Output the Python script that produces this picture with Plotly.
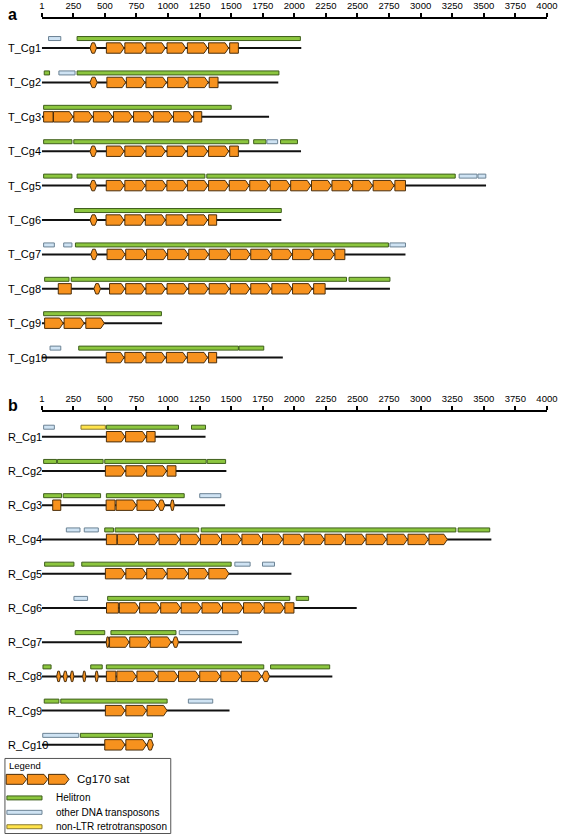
import plotly.graph_objects as go

# ---------------- data (bp coordinates) ----------------
T_names = ["T_Cg1", "T_Cg2", "T_Cg3", "T_Cg4", "T_Cg5", "T_Cg6", "T_Cg7", "T_Cg8", "T_Cg9", "T_Cg10"]
T_length = [2055, 1873, 1800, 2053, 3518, 1897, 2880, 2757, 953, 1909]
T_helitron = [
    [(280, 2048)],
    [(20, 62), (280, 1878)],
    [(15, 1500)],
    [(15, 239), (254, 1639), (1678, 1776), (1891, 2025)],
    [(15, 239), (280, 1292), (1307, 3274)],
    [(259, 1897)],
    [(267, 2745)],
    [(23, 216), (234, 2413), (2433, 2757)],
    [(15, 948)],
    [(293, 1557), (1562, 1758)],
]
T_dna = [
    [(54, 151)], [(136, 264)], [], [(1783, 1868)], [(3305, 3446), (3454, 3516)],
    [], [(15, 100), (174, 239), (2757, 2880)], [], [], [(66, 151)],
]
T_ltr = [[] for _ in range(10)]
T_sat = [
    [(382, 434), (512, 652), (658, 817), (825, 979), (992, 1141), (1153, 1313), (1321, 1480), (1488, 1557)],
    [(382, 439), (516, 665), (670, 817), (825, 987), (997, 1153), (1159, 1318), (1326, 1396)],
    [(15, 90), (93, 247), (254, 401), (409, 560), (568, 717), (727, 876), (884, 1035), (1043, 1192), (1203, 1267)],
    [(382, 434), (512, 652), (658, 817), (825, 979), (992, 1141), (1153, 1313), (1321, 1480), (1488, 1557)],
    [(382, 434), (511, 652), (658, 820), (825, 985), (991, 1148), (1153, 1315), (1321, 1480), (1485, 1642),
     (1647, 1804), (1809, 1966), (1971, 2130), (2136, 2293), (2298, 2457), (2462, 2619), (2624, 2790), (2796, 2880)],
    [(382, 439), (509, 650), (658, 812), (820, 979), (984, 1141), (1151, 1313), (1321, 1385)],
    [(388, 439), (517, 660), (665, 825), (830, 992), (997, 1159), (1164, 1321), (1326, 1488), (1493, 1650),
     (1655, 1817), (1822, 1981), (1986, 2148), (2153, 2316), (2321, 2400)],
    [(131, 234), (413, 465), (537, 658), (665, 817), (825, 979), (992, 1153), (1164, 1318), (1326, 1485),
     (1493, 1647), (1655, 1814), (1822, 1981), (1986, 2140), (2153, 2244)],
    [(23, 170), (177, 336), (349, 496)],
    [(511, 652), (658, 817), (825, 979), (987, 1146), (1153, 1313), (1321, 1385)],
]

R_names = ["R_Cg1", "R_Cg2", "R_Cg3", "R_Cg4", "R_Cg5", "R_Cg6", "R_Cg7", "R_Cg8", "R_Cg9", "R_Cg10"]
R_length = [1297, 1462, 1452, 3560, 1977, 2494, 1585, 2301, 1487, 883]
R_helitron = [
    [(512, 1083), (1186, 1297)],
    [(15, 118), (124, 486), (499, 1302), (1310, 1456)],
    [(15, 157), (170, 466), (512, 1128)],
    [(499, 568), (581, 1243), (1263, 3279), (3297, 3547)],
    [(23, 255), (317, 1500)],
    [(522, 1964), (2015, 2113)],
    [(265, 499), (548, 1063)],
    [(10, 74), (388, 479), (512, 1758), (1812, 2280)],
    [(20, 136), (151, 993)],
    [(306, 877)],
]
R_dna = [
    [(15, 100)], [], [(1251, 1418)], [(195, 303), (337, 448)], [(1529, 1650), (1748, 1843)],
    [(255, 363)], [(1089, 1554)], [], [(1161, 1354)], [(8, 293)],
]
R_ltr = [[(311, 504)], [], [], [], [], [], [], [], [], []]
R_sat = [
    [(512, 659), (664, 826), (831, 898)],
    [(504, 659), (666, 826), (831, 988), (993, 1063)],
    [(87, 151), (510, 581), (589, 749), (754, 916), (921, 975), (1019, 1050)],
    [(512, 595), (599, 762), (767, 924), (929, 1092), (1097, 1251), (1256, 1418), (1423, 1580), (1585, 1743),
     (1748, 1907), (1912, 2072), (2077, 2237), (2242, 2399), (2404, 2563), (2568, 2729), (2734, 2895),
     (2900, 3061), (3066, 3212)],
    [(504, 659), (666, 826), (831, 988), (993, 1156), (1161, 1318), (1323, 1483)],
    [(513, 607), (615, 770), (775, 937), (942, 1099), (1104, 1264), (1269, 1426), (1431, 1593), (1598, 1756),
     (1761, 1920), (1925, 1997)],
    [(510, 535), (537, 692), (697, 854), (859, 1024), (1037, 1083)],
    [(118, 149), (170, 203), (226, 255), (324, 350), (422, 448), (512, 587), (595, 749), (754, 916),
     (921, 1078), (1083, 1246), (1251, 1413), (1418, 1575), (1580, 1740), (1745, 1804)],
    [(504, 659), (666, 829), (834, 993)],
    [(499, 659), (666, 829), (834, 883)],
]

tick_vals = [1, 250, 500, 750, 1000, 1250, 1500, 1750, 2000, 2250, 2500, 2750, 3000, 3250, 3500, 3750, 4000]
tick_text = [str(v) for v in tick_vals]

legend_items = ["Helitron", "other DNA transposons", "non-LTR retrotransposon"]

# ---------------- style ----------------
W, H = 567, 834
ORANGE = "#F7921E"
ORANGE_LINE = "#4a2e0c"
GREEN = "#8CC63F"
GREEN_LINE = "#3f5f1c"
BLUE = "#CFE3F3"
BLUE_LINE = "#6b8294"
YELLOW = "#FFE34A"
YELLOW_LINE = "#8a7a30"
FONT = "Liberation Sans, Arial, sans-serif"

X_DOM = [39.7 / W, 557.7 / W]

fig = go.Figure()
fig.add_trace(go.Scatter(x=[None], y=[None], xaxis="x", yaxis="y", showlegend=False))
fig.add_trace(go.Scatter(x=[None], y=[None], xaxis="x2", yaxis="y2", showlegend=False))

shapes = []
annotations = []


def sat_path(s, e, h=5.2, pt=28):
    L = e - s
    if L >= 110:
        return f"M{s},{-h} L{e-pt},{-h} L{e},0 L{e-pt},{h} L{s},{h} Z"
    if L >= 60:
        return f"M{s},{-h} L{e},{-h} L{e},{h} L{s},{h} Z"
    p = L * 0.3
    return f"M{s},0 L{s+p},{-h} L{e-p},{-h} L{e},0 L{e-p},{h} L{s+p},{h} Z"


def add_panel(xr, yr, names, lengths, hel, dna, ltr, sat):
    for i, name in enumerate(names):
        shapes.append(dict(type="line", xref=xr, yref=yr, x0=1, x1=lengths[i], y0=i, y1=i,
                           line=dict(color="#111111", width=2)))
        for group, fc, lc in ((hel, GREEN, GREEN_LINE), (dna, BLUE, BLUE_LINE), (ltr, YELLOW, YELLOW_LINE)):
            for s, e in group[i]:
                shapes.append(dict(type="rect", xref=xr, yref=yr, ysizemode="pixel", yanchor=i,
                                   x0=s, x1=e, y0=7.5, y1=11.5, fillcolor=fc,
                                   line=dict(color=lc, width=1)))
        for s, e in sat[i]:
            shapes.append(dict(type="path", xref=xr, yref=yr, ysizemode="pixel", yanchor=i,
                               path=sat_path(s, e), fillcolor=ORANGE,
                               line=dict(color=ORANGE_LINE, width=1)))
        annotations.append(dict(xref="paper", yref=yr, x=3 / W, y=i, text=name, showarrow=False,
                                xanchor="left", yanchor="middle",
                                font=dict(family=FONT, size=11, color="black")))


add_panel("x", "y", T_names, T_length, T_helitron, T_dna, T_ltr, T_sat)
add_panel("x2", "y2", R_names, R_length, R_helitron, R_dna, R_ltr, R_sat)

# panel letters
annotations.append(dict(xref="paper", yref="paper", x=3 / W, y=1 - 10 / H, text="<b>a</b>", showarrow=False,
                        xanchor="left", yanchor="middle", font=dict(family=FONT, size=16, color="black")))
annotations.append(dict(xref="paper", yref="paper", x=3 / W, y=1 - 403 / H, text="<b>b</b>", showarrow=False,
                        xanchor="left", yanchor="middle", font=dict(family=FONT, size=16, color="black")))

# legend box
def px(x):
    return x / W


def py(y):
    return 1 - y / H


shapes.append(dict(type="rect", xref="paper", yref="paper", x0=px(2), x1=px(172), y0=py(758), y1=py(833.5),
                   line=dict(color="#555555", width=1), fillcolor="white", layer="below"))
annotations.append(dict(xref="paper", yref="paper", x=px(4), y=py(765), text="Legend", showarrow=False,
                        xanchor="left", yanchor="middle", font=dict(family=FONT, size=9.5, color="black")))
for k in range(3):
    a0 = 3.3 + k * 21.7
    a1 = a0 + 21.0
    shapes.append(dict(type="path", xref="paper", yref="paper",
                       path=(f"M{px(a0)},{py(774)} L{px(a1-4)},{py(774)} L{px(a1)},{py(779)} "
                             f"L{px(a1-4)},{py(784)} L{px(a0)},{py(784)} Z"),
                       fillcolor=ORANGE, line=dict(color=ORANGE_LINE, width=1)))
annotations.append(dict(xref="paper", yref="paper", x=px(74), y=py(779), text="Cg170 sat", showarrow=False,
                        xanchor="left", yanchor="middle", font=dict(family=FONT, size=11.5, color="black")))
for k, (lab, fc, lc) in enumerate(zip(legend_items, [GREEN, BLUE, YELLOW], [GREEN_LINE, BLUE_LINE, YELLOW_LINE])):
    yc = 797.7 + k * 14.5
    shapes.append(dict(type="rect", xref="paper", yref="paper", x0=px(4), x1=px(40), y0=py(yc + 2), y1=py(yc - 2),
                       fillcolor=fc, line=dict(color=lc, width=1)))
    annotations.append(dict(xref="paper", yref="paper", x=px(52.5), y=py(yc), text=lab, showarrow=False,
                            xanchor="left", yanchor="middle", font=dict(family=FONT, size=10, color="black")))

xaxis_common = dict(range=[0, 4000], domain=X_DOM, side="top", tickmode="array", tickvals=tick_vals,
                    ticktext=tick_text, ticks="outside", ticklen=4, tickwidth=1.5, tickcolor="black",
                    showline=True, linewidth=2, linecolor="black", showgrid=False, zeroline=False,
                    ticklabeloverflow="allow",
                    tickfont=dict(family="Liberation Sans Narrow, Arial Narrow, " + FONT, size=9.5, color="black"),
                    fixedrange=True)

fig.update_layout(
    width=W, height=H,
    margin=dict(l=0, r=0, t=0, b=0),
    paper_bgcolor="white", plot_bgcolor="white",
    showlegend=False,
    xaxis=dict(anchor="y", **xaxis_common),
    xaxis2=dict(anchor="y2", **xaxis_common),
    yaxis=dict(range=[9.73, -0.838], domain=[1 - 380 / H, 1 - 14.3 / H], visible=False, fixedrange=True),
    yaxis2=dict(range=[9.31, -0.726], domain=[1 - 755 / H, 1 - 409.3 / H], visible=False, fixedrange=True),
    shapes=shapes,
    annotations=annotations,
)

fig.write_html("out.html", config={"displayModeBar": False},
               post_script="document.body.style.margin='0';document.body.style.overflow='hidden';")
